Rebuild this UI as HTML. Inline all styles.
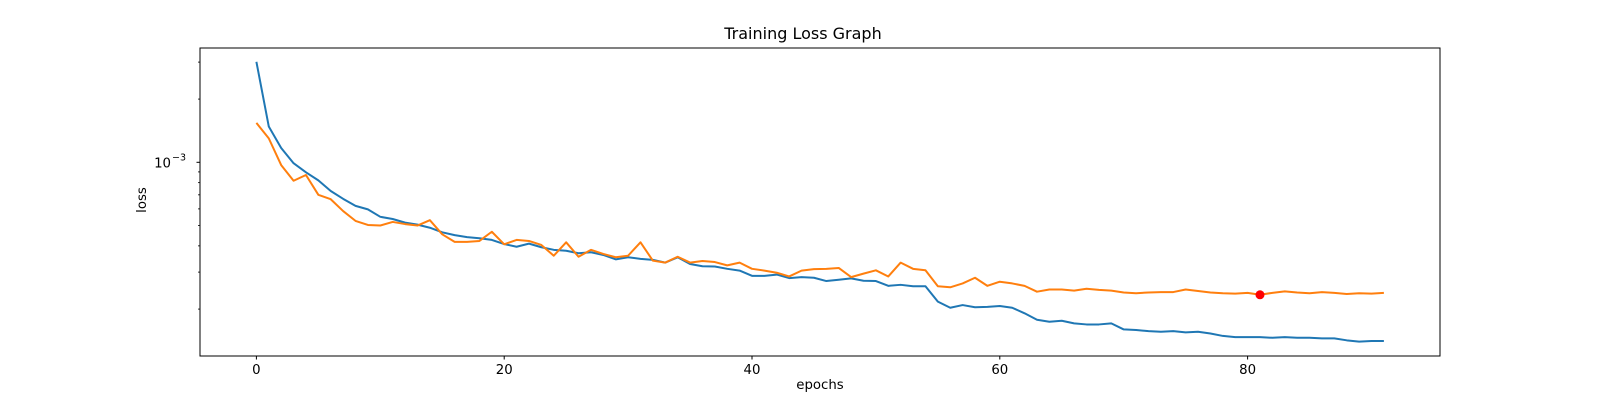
<!DOCTYPE html>
<html><head><meta charset="utf-8"><style>
html,body{margin:0;padding:0;background:#fff;}
svg{display:block;font-family:"DejaVu Sans","Liberation Sans",sans-serif;}
</style></head><body>
<svg id="chart" width="1600" height="400" viewBox="0 0 1600 400">
<rect x="0" y="0" width="1600" height="400" fill="#fff"/>
<text x="803" y="39" text-anchor="middle" font-size="16" fill="#000">Training Loss Graph</text>
<text x="820" y="389" text-anchor="middle" font-size="13.3" fill="#000">epochs</text>
<text transform="translate(146,200) rotate(-90)" text-anchor="middle" font-size="13.3" fill="#000">loss</text>
<g id="plot"></g>
<rect x="200" y="48" width="1240" height="308" fill="none" stroke="#000" stroke-width="1"/>
</svg>
<script>
const xTicks = [0, 20, 40, 60, 80];
const yMinorTicks = [2, 3, 4, 5, 6, 7, 8, 9, 20, 30];
const yMajorTicks = [10];
// loss values in units of 1e-4
const trainLoss = [30.1,14.8,11.7,9.9,8.96,8.2,7.3,6.7,6.2,5.97,5.5,5.37,5.16,5.05,4.88,4.64,4.5,4.4,4.35,4.27,4.08,3.96,4.1,3.94,3.83,3.79,3.69,3.73,3.62,3.45,3.53,3.47,3.43,3.33,3.53,3.28,3.2,3.19,3.11,3.05,2.88,2.88,2.92,2.81,2.84,2.82,2.72,2.76,2.8,2.73,2.72,2.58,2.61,2.57,2.57,2.17,2.03,2.09,2.04,2.05,2.07,2.03,1.91,1.78,1.74,1.76,1.71,1.69,1.69,1.71,1.6,1.59,1.57,1.56,1.57,1.55,1.56,1.53,1.49,1.47,1.47,1.47,1.46,1.47,1.46,1.46,1.45,1.45,1.42,1.4,1.41,1.41];
const valLoss = [15.4,13.0,9.7,8.17,8.7,7.0,6.67,5.86,5.26,5.03,5.0,5.2,5.08,5.0,5.3,4.54,4.18,4.18,4.22,4.67,4.07,4.27,4.22,4.04,3.59,4.16,3.55,3.83,3.66,3.53,3.59,4.16,3.4,3.33,3.55,3.33,3.39,3.35,3.23,3.33,3.11,3.05,2.98,2.86,3.05,3.1,3.11,3.14,2.84,2.95,3.06,2.86,3.33,3.11,3.06,2.57,2.54,2.65,2.82,2.58,2.7,2.65,2.58,2.42,2.48,2.48,2.45,2.5,2.47,2.45,2.4,2.38,2.4,2.41,2.41,2.48,2.44,2.4,2.38,2.37,2.39,2.34,2.39,2.43,2.4,2.38,2.41,2.39,2.36,2.38,2.37,2.39];
const bestEpoch = 81;

const NS = "http://www.w3.org/2000/svg";
const plot = document.getElementById('plot');
function xScale(e){ return 256.4 + 12.39 * e; }
function yScale(v){ return 162.3 - 210 * (Math.log10(v) - 1); }
function mk(tag, attrs){ const el=document.createElementNS(NS,tag); for(const k in attrs) el.setAttribute(k, attrs[k]); plot.appendChild(el); return el; }

xTicks.forEach(t=>{
  const x=xScale(t);
  const l=mk('line',{x1:x,x2:x,y1:356,y2:359.5,stroke:'#000','stroke-width':1});
  
  
  const tx=mk('text',{x:x,y:374,'text-anchor':'middle','font-size':13.3,fill:'#000'});
  tx.textContent=String(t);
  
  
});
yMinorTicks.forEach(t=>{
  const y=yScale(t);
  const l=mk('line',{x1:198,x2:200,y1:y,y2:y,stroke:'#000','stroke-width':0.8});
  
  
});
yMajorTicks.forEach(t=>{
  const y=yScale(t);
  const l=mk('line',{x1:196.5,x2:200,y1:y,y2:y,stroke:'#000','stroke-width':1});
  
  
  const tx=mk('text',{x:171,y:y+5,'text-anchor':'end','font-size':13.3,fill:'#000'});
  tx.textContent='10';
  
  
  const sup=mk('text',{x:172,y:y-2,'font-size':9.5,fill:'#000'});
  sup.textContent='\u22123';
  
  
});
function line(data,color,name){
  const d=data.map((v,i)=>(i?'L':'M')+xScale(i).toFixed(2)+','+yScale(v).toFixed(2)).join('');
  const p=mk('path',{d:d,fill:'none',stroke:color,'stroke-width':2,'stroke-linejoin':'round'});
  
  
}
line(trainLoss,'#1f77b4','train-loss-line');
line(valLoss,'#ff7f0e','val-loss-line');
const dot=mk('circle',{cx:xScale(bestEpoch),cy:yScale(valLoss[bestEpoch]),r:4.5,fill:'#ff0000'});


</script>
</body></html>
